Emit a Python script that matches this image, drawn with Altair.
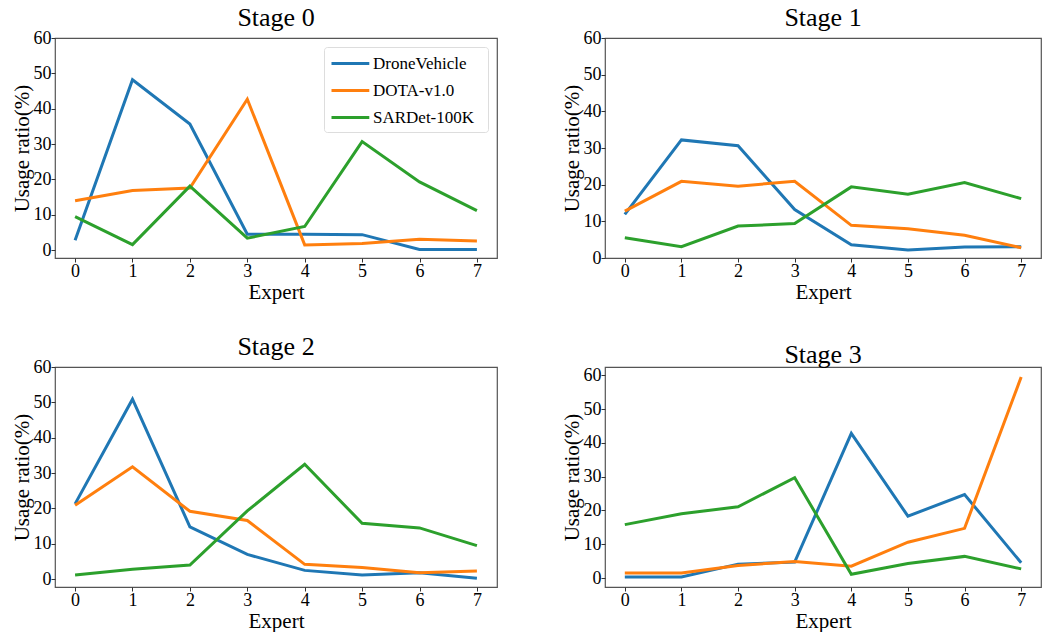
import altair as alt
import pandas as pd

experts = [0, 1, 2, 3, 4, 5, 6, 7]
datasets = ["DroneVehicle", "DOTA-v1.0", "SARDet-100K"]
colors = ["#1f77b4", "#ff7f0e", "#2ca02c"]

stage0_drone = [2.8, 48.2, 35.7, 4.5, 4.5, 4.4, 0.2, 0.2]
stage0_dota = [14.0, 16.9, 17.6, 42.7, 1.5, 1.9, 3.1, 2.6]
stage0_sar = [9.5, 1.6, 18.1, 3.4, 6.7, 30.7, 19.3, 11.2]

stage1_drone = [11.9, 32.2, 30.6, 13.2, 3.6, 2.2, 3.0, 3.1]
stage1_dota = [12.8, 20.9, 19.6, 20.9, 8.9, 8.0, 6.2, 2.8]
stage1_sar = [5.5, 3.1, 8.7, 9.4, 19.4, 17.4, 20.6, 16.2]

stage2_drone = [21.3, 50.9, 14.8, 7.0, 2.5, 1.2, 1.8, 0.3]
stage2_dota = [20.9, 31.8, 19.2, 16.6, 4.2, 3.3, 1.8, 2.3]
stage2_sar = [1.2, 2.8, 4.0, 19.3, 32.5, 15.8, 14.5, 9.5]

stage3_drone = [0.3, 0.3, 4.1, 4.7, 42.8, 18.3, 24.7, 4.5]
stage3_dota = [1.5, 1.5, 3.7, 4.9, 3.5, 10.6, 14.7, 59.5]
stage3_sar = [15.8, 19.0, 21.1, 29.7, 1.1, 4.3, 6.4, 2.7]

stages = [
    ("Stage 0", [stage0_drone, stage0_dota, stage0_sar], [-2.2, 60]),
    ("Stage 1", [stage1_drone, stage1_dota, stage1_sar], [0, 60]),
    ("Stage 2", [stage2_drone, stage2_dota, stage2_sar], [-2.2, 60]),
    ("Stage 3", [stage3_drone, stage3_dota, stage3_sar], [-2.66, 62.46]),
]

FONT = "Liberation Serif"


def panel(title, series, ydomain, width, show_legend):
    rows = []
    for name, vals in zip(datasets, series):
        for e, v in zip(experts, vals):
            rows.append({"Expert": e, "Usage": v, "Dataset": name})
    df = pd.DataFrame(rows)
    if show_legend:
        legend = alt.Legend(
            title="\u00a0",
            titleOrient="right",
            titleFontSize=17,
            titlePadding=8,
            labelFont=FONT,
            labelFontSize=17,
            labelColor="#000",
            orient="top-right",
            offset=9,
            symbolType="M-1,0H3.2",
            symbolStrokeWidth=3,
            symbolSize=324,
            rowPadding=8,
            labelOffset=22,
            padding=6,
            strokeColor="#dddddd",
            fillColor="white",
            cornerRadius=3,
        )
    else:
        legend = None
    return (
        alt.Chart(df)
        .mark_line(strokeWidth=3, clip=True)
        .encode(
            x=alt.X(
                "Expert:Q",
                scale=alt.Scale(domain=[-0.35, 7.35], nice=False, zero=False),
                axis=alt.Axis(values=experts, format="d", title="Expert"),
            ),
            y=alt.Y(
                "Usage:Q",
                scale=alt.Scale(domain=ydomain, nice=False, zero=False),
                axis=alt.Axis(values=[0, 10, 20, 30, 40, 50, 60], title="Usage ratio(%)"),
            ),
            color=alt.Color(
                "Dataset:N",
                scale=alt.Scale(domain=datasets, range=colors),
                legend=legend,
            ),
        )
        .properties(
            width=width,
            height=220,
            title=alt.TitleParams(title, font=FONT, fontSize=26, fontWeight="normal", color="#000", offset=-2),
        )
    )


p0 = panel(*stages[0], 442, True)
p1 = panel(*stages[1], 436, False)
p2 = panel(*stages[2], 442, False)
p3 = panel(*stages[3], 436, False)

row1 = alt.hconcat(p0, p1, spacing=62).resolve_scale(color="independent").resolve_legend(color="independent")
row2 = alt.hconcat(p2, p3, spacing=62).resolve_scale(color="independent").resolve_legend(color="independent")

chart = (
    alt.vconcat(row1, row2, spacing=30)
    .resolve_scale(color="independent")
    .resolve_legend(color="independent")
    .properties(padding={"left": 10, "top": 4, "right": 0, "bottom": 0}, background="white")
    .configure_view(stroke="#555555", strokeWidth=1.2)
    .configure_axis(
        domain=False,
        grid=False,
        ticks=True,
        tickSize=4,
        tickColor="#333",
        labelFont=FONT,
        labelFontSize=18,
        labelColor="#000",
        labelPadding=0,
        titleFont=FONT,
        titleFontSize=21,
        titleFontWeight="normal",
        titleColor="#000",
        titlePadding=1,
    )
)

chart.save("out.html", embed_options={"renderer": "svg", "actions": False})
